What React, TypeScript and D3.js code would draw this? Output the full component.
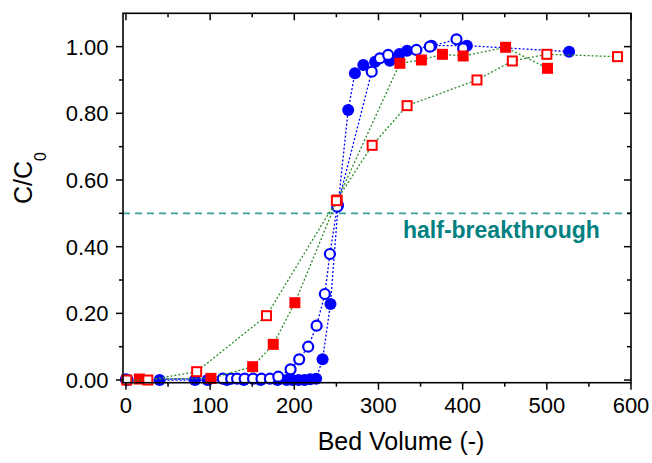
import React from "react";
import * as d3 from "d3";

// Blue filled circles
const bfX = [2, 40, 82, 97, 120, 140, 160, 180, 191, 198, 205, 212, 219, 226, 233.6, 243, 252, 264, 272, 282, 296, 313.5, 325, 334, 363, 405, 526.5];
const bfY = [0, 0, 0, 0, 0, 0, 0, 0, 0, 0, 0, 0, 0.002, 0.004, 0.062, 0.228, 0.524, 0.81, 0.92, 0.945, 0.955, 0.958, 0.978, 0.988, 1.003, 1.003, 0.985];
// Blue open circles
const boX = [0, 115, 125, 132, 141, 151, 161, 171, 181, 195.6, 205.8, 216.5, 226.5, 236.3, 242.3, 251, 292, 301.7, 311.5, 345, 361, 392.7, 400.6];
const boY = [0.002, 0.004, 0.004, 0.004, 0.004, 0.004, 0.004, 0.004, 0.01, 0.032, 0.062, 0.1, 0.163, 0.258, 0.378, 0.52, 0.925, 0.965, 0.975, 0.99, 1.0, 1.022, 0.995];
// Red filled squares
const rfX = [16, 101, 150.5, 175, 200.7, 251, 325.4, 351, 376, 400.6, 451, 500.8];
const rfY = [0.003, 0.005, 0.04, 0.107, 0.232, 0.54, 0.95, 0.96, 0.977, 0.972, 0.998, 0.935];
// Red open squares
const roX = [1, 26, 84, 167, 250, 292.5, 334, 417, 459, 500, 584];
const roY = [0, 0, 0.025, 0.193, 0.538, 0.704, 0.823, 0.9, 0.957, 0.977, 0.97];

const xMajor = [0, 100, 200, 300, 400, 500, 600];
const xMinor = [50, 150, 250, 350, 450, 550];
const yMajor = [0, 0.2, 0.4, 0.6, 0.8, 1.0];
const yMinor = [0.1, 0.3, 0.5, 0.7, 0.9];

const halfLevel = 0.5;
const halfLabel = "half-breakthrough";
const xTitle = "Bed Volume (-)";

const W = 652, H = 463;
const L = 123, R = 631, T = 13.3, B = 382.7;
const FONT = "Arial, 'Liberation Sans', sans-serif";
const BLUE = "#0000FF", RED = "#FF0000", GREEN = "#2E8B2E", TEAL = "#008080";

export default function App() {
  const x = d3.scaleLinear().domain([-3.5, 600]).range([L, R]);
  const y = d3.scaleLinear().domain([-0.008, 1.1]).range([B, T]);
  const line = d3.line<[number, number]>().x(d => x(d[0])).y(d => y(d[1]));
  const pts = (xs: number[], ys: number[]) => xs.map((v, i) => [v, ys[i]] as [number, number]);

  const bf = pts(bfX, bfY), bo = pts(boX, boY), rf = pts(rfX, rfY), ro = pts(roX, roY);

  return (
    <svg width={W} height={H} style={{ position: "absolute", left: 0, top: 0, background: "#fff" }} fontFamily={FONT}>
      <rect x={0} y={0} width={W} height={H} fill="#fff" />
      {/* half-breakthrough line */}
      <line x1={L} x2={R} y1={y(halfLevel)} y2={y(halfLevel)} stroke="#3a9e9e" strokeWidth={1.8} strokeDasharray="7,5" />
      <text x={403} y={238} fill={TEAL} fontSize={23} fontWeight="bold">{halfLabel}</text>

      {/* blue filled */}
      <path d={line(bf) || ""} fill="none" stroke={BLUE} strokeWidth={1.3} strokeDasharray="2,2" />
      {bf.map((d, i) => <circle key={"bf" + i} cx={x(d[0])} cy={y(d[1])} r={6} fill={BLUE} />)}
      {/* blue open */}
      <path d={line(bo) || ""} fill="none" stroke={BLUE} strokeWidth={1.3} strokeDasharray="2,2" />
      {bo.map((d, i) => <circle key={"bo" + i} cx={x(d[0])} cy={y(d[1])} r={5} fill="#fff" stroke={BLUE} strokeWidth={2.2} />)}
      {/* red filled */}
      <path d={line(rf) || ""} fill="none" stroke={GREEN} strokeWidth={1.3} strokeDasharray="2,2" />
      {rf.map((d, i) => <rect key={"rf" + i} x={x(d[0]) - 5.5} y={y(d[1]) - 5.5} width={11} height={11} fill={RED} />)}
      {/* red open */}
      <path d={line(ro) || ""} fill="none" stroke={GREEN} strokeWidth={1.3} strokeDasharray="2,2" />
      {ro.map((d, i) => <rect key={"ro" + i} x={x(d[0]) - 4.5} y={y(d[1]) - 4.5} width={9} height={9} fill="#fff" stroke={RED} strokeWidth={2} />)}

      {/* frame */}
      <rect x={L} y={T} width={R - L} height={B - T} fill="none" stroke="#000" strokeWidth={1.6} />

      {/* x ticks */}
      {xMajor.map(v => (
        <g key={"xm" + v}>
          <line x1={x(v)} x2={x(v)} y1={B} y2={B + 7} stroke="#000" strokeWidth={1.5} />
          <line x1={x(v)} x2={x(v)} y1={T} y2={T + 7} stroke="#000" strokeWidth={1.5} />
          <text x={x(v)} y={413} textAnchor="middle" fontSize={22} fill="#000">{v}</text>
        </g>
      ))}
      {xMinor.map(v => (
        <g key={"xn" + v}>
          <line x1={x(v)} x2={x(v)} y1={B} y2={B + 4} stroke="#000" strokeWidth={1.5} />
          <line x1={x(v)} x2={x(v)} y1={T} y2={T + 4} stroke="#000" strokeWidth={1.5} />
        </g>
      ))}
      {/* y ticks */}
      {yMajor.map(v => (
        <g key={"ym" + v}>
          <line x1={L - 7} x2={L} y1={y(v)} y2={y(v)} stroke="#000" strokeWidth={1.5} />
          <line x1={R - 7} x2={R} y1={y(v)} y2={y(v)} stroke="#000" strokeWidth={1.5} />
          <text x={108.5} y={y(v)} dy="0.36em" textAnchor="end" fontSize={22} fill="#000">{v.toFixed(2)}</text>
        </g>
      ))}
      {yMinor.map(v => (
        <g key={"yn" + v}>
          <line x1={L - 4} x2={L} y1={y(v)} y2={y(v)} stroke="#000" strokeWidth={1.5} />
          <line x1={R - 4} x2={R} y1={y(v)} y2={y(v)} stroke="#000" strokeWidth={1.5} />
        </g>
      ))}

      {/* titles */}
      <text x={401} y={450} textAnchor="middle" fontSize={25} fill="#000">{xTitle}</text>
      <text transform="translate(32,204) rotate(-90)" fontSize={25} fill="#000">
        C/C<tspan fontSize={16} dy={14}>0</tspan>
      </text>
    </svg>
  );
}
